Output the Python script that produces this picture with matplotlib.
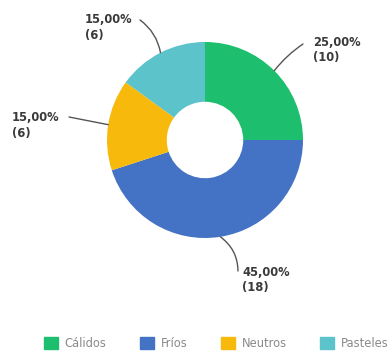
import matplotlib.pyplot as plt
import numpy as np

categories = ["Cálidos", "Fríos", "Neutros", "Pasteles"]
counts = [10, 18, 6, 6]
colors = ["#1dbf6e", "#4472c4", "#f6b90c", "#5cc3cb"]

total = sum(counts)
shares = [c / total * 100 for c in counts]

fig = plt.figure(figsize=(3.91, 3.54), dpi=100)
ax = fig.add_axes([0, 0, 1, 1])

cx, cy, r = 205, 214, 98
wedges, _ = ax.pie(counts, colors=colors, startangle=90, counterclock=False,
                   radius=r, center=(cx, cy), frame=True,
                   wedgeprops=dict(width=r * 0.61, edgecolor="none"))
ax.set_xlim(0, 391)
ax.set_ylim(0, 354)
ax.set_aspect("equal")
ax.axis("off")

# text anchor (top-left), leader end point, curvature of the leader
label_pos = [(313, 318), (242, 88), (12, 243), (85, 341)]
ends = [(303, 310), (238, 83), (69, 237), (140, 334)]
rads = [0.08, 0.25, 0.0, -0.2]

for w, n, s, (tx, ty) in zip(wedges, counts, shares, label_pos):
    ax.text(tx, ty, f"{s:.2f}%".replace(".", ",") + f"\n({n})",
            ha="left", va="top", fontsize=8.3, fontweight="bold",
            color="#3a3a3a", linespacing=1.25)

for w, (ex, ey), rad in zip(wedges, ends, rads):
    ang = np.deg2rad((w.theta1 + w.theta2) / 2)
    px, py = cx + r * np.cos(ang), cy + r * np.sin(ang)
    ax.annotate("", xy=(px, py), xytext=(ex, ey),
                arrowprops=dict(arrowstyle="-", color="#555555", lw=1,
                                connectionstyle=f"arc3,rad={rad}",
                                shrinkA=0, shrinkB=0))

handles = [plt.Rectangle((0, 0), 1, 1, color=c) for c in colors]
fig.legend(handles, categories, loc="center", bbox_to_anchor=(0.553, 0.03),
           ncol=4, frameon=False, fontsize=8.3, labelcolor="#8a8a8a",
           handlelength=1.2, handleheight=1.2, columnspacing=2.9, handletextpad=0.6)

fig.savefig("out.png", dpi=100)
